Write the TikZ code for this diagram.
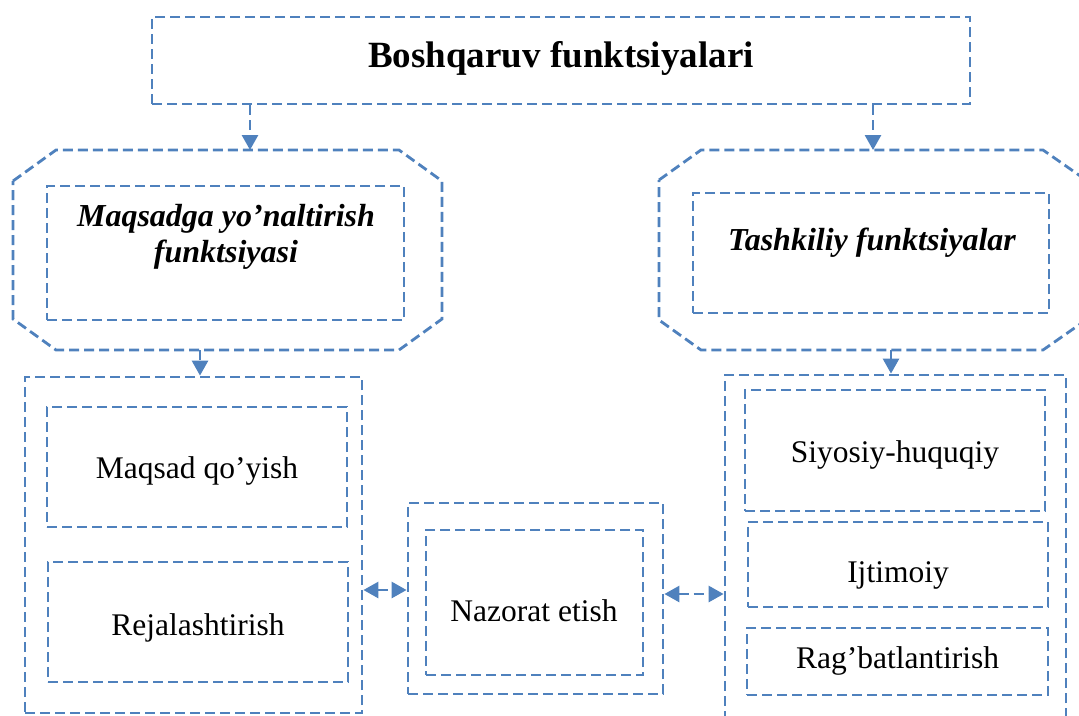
\documentclass[tikz,border=0pt]{standalone}
\usepackage{fontspec}
\setmainfont{Liberation Serif}
\usetikzlibrary{arrows.meta,calc}
\definecolor{bl}{HTML}{4F81BD}
\begin{document}
\begin{tikzpicture}[x=1pt,y=-1pt,
  dsh/.style={draw=bl, line width=2.8pt, dash pattern=on 10pt off 5pt},
  bx/.style={dsh, rectangle, inner sep=0pt},
  ghost/.style={rectangle, inner sep=0pt, outer sep=0pt},
  txt/.style={font=\fontsize{31.5}{36}\selectfont, inner sep=0pt},
  btxt/.style={font=\fontsize{32}{36}\selectfont\bfseries\itshape, align=center, inner sep=0pt},
  ttxt/.style={font=\fontsize{37}{42}\selectfont\bfseries, inner sep=0pt},
  tip/.style={Triangle[length=15pt,width=16pt]},
  arr/.style={dsh, -{Triangle[length=15pt,width=16pt]}},
  darr/.style={dsh, {Triangle[length=15pt,width=16pt]}-{Triangle[length=15pt,width=16pt]}}
]
\useasboundingbox (0,0) rectangle (1079,715);

% top box
\node[bx, minimum width=818pt, minimum height=87pt] (top) at (561,60.5) {};
\node[ttxt] (toptext) at (561,58) {Boshqaruv funktsiyalari};

% left octagon
\node[ghost, minimum width=429pt, minimum height=200pt] (lo) at (227.5,250) {};
\draw[dsh] ([yshift=-31pt]lo.north west) -- ([xshift=43pt]lo.north west)
  -- ([xshift=-43pt]lo.north east) -- ([yshift=-31pt]lo.north east)
  -- ([yshift=31pt]lo.south east) -- ([xshift=-43pt]lo.south east)
  -- ([xshift=43pt]lo.south west) -- ([yshift=31pt]lo.south west) -- cycle;
\node[bx, minimum width=357pt, minimum height=134pt] (li) at (225.5,253) {};
\node[btxt] (litext) at (226,237) {Maqsadga yo’naltirish\\funktsiyasi};

% right octagon
\node[ghost, minimum width=427pt, minimum height=200pt] (ro) at (872.5,250) {};
\draw[dsh] ([yshift=-30pt]ro.north west) -- ([xshift=42pt]ro.north west)
  -- ([xshift=-43pt]ro.north east) -- ([yshift=-30pt]ro.north east)
  -- ([yshift=30pt]ro.south east) -- ([xshift=-43pt]ro.south east)
  -- ([xshift=42pt]ro.south west) -- ([yshift=30pt]ro.south west) -- cycle;
\node[bx, minimum width=356pt, minimum height=120pt] (ri) at (871,253) {};
\node[btxt] (ritext) at (872,243) {Tashkiliy funktsiyalar};

% left big box
\node[bx, minimum width=337pt, minimum height=336pt] (L) at (193.5,545) {};
\node[bx, minimum width=300pt, minimum height=120pt] (maq) at (197,467) {};
\node[txt] (maqtext) at (197,471) {Maqsad qo’yish};
\node[bx, minimum width=300pt, minimum height=120pt] (rej) at (198,622) {};
\node[txt] (rejtext) at (198,628) {Rejalashtirish};

% middle
\node[bx, minimum width=255pt, minimum height=191pt] (M) at (535.5,598.5) {};
\node[bx, minimum width=217pt, minimum height=145pt] (Mi) at (534.5,602.5) {};
\node[txt] (naz) at (534,611) {Nazorat etish};

% right big box
\node[bx, minimum width=341pt, minimum height=347pt] (R) at (895.5,548.5) {};
\node[bx, minimum width=300pt, minimum height=121pt] (siy) at (895,450.5) {};
\node[txt] (siytext) at (895,455) {Siyosiy-huquqiy};
\node[bx, minimum width=300pt, minimum height=85pt] (ijt) at (898,564.5) {};
\node[txt] (ijttext) at (898,575) {Ijtimoiy};
\node[bx, minimum width=301pt, minimum height=67pt] (rag) at (897.5,661.5) {};
\node[txt] (ragtext) at (897.5,661) {Rag’batlantirish};

% connectors
\coordinate (x1) at (250,0);
\coordinate (x2) at (873,0);
\coordinate (x3) at (200,0);
\coordinate (x4) at (891,0);
\coordinate (y1) at (0,590);
\coordinate (y2) at (0,594);
\draw[arr] (top.south -| x1) -- (lo.north -| x1);
\draw[arr] (top.south -| x2) -- (ro.north -| x2);
\draw[arr] (lo.south -| x3) -- (L.north -| x3);
\draw[arr] (ro.south -| x4) -- (R.north -| x4);
\draw[darr] (L.east |- y1) -- (M.west |- y1);
\draw[darr] (M.east |- y2) -- (R.west |- y2);
\end{tikzpicture}
\end{document}
